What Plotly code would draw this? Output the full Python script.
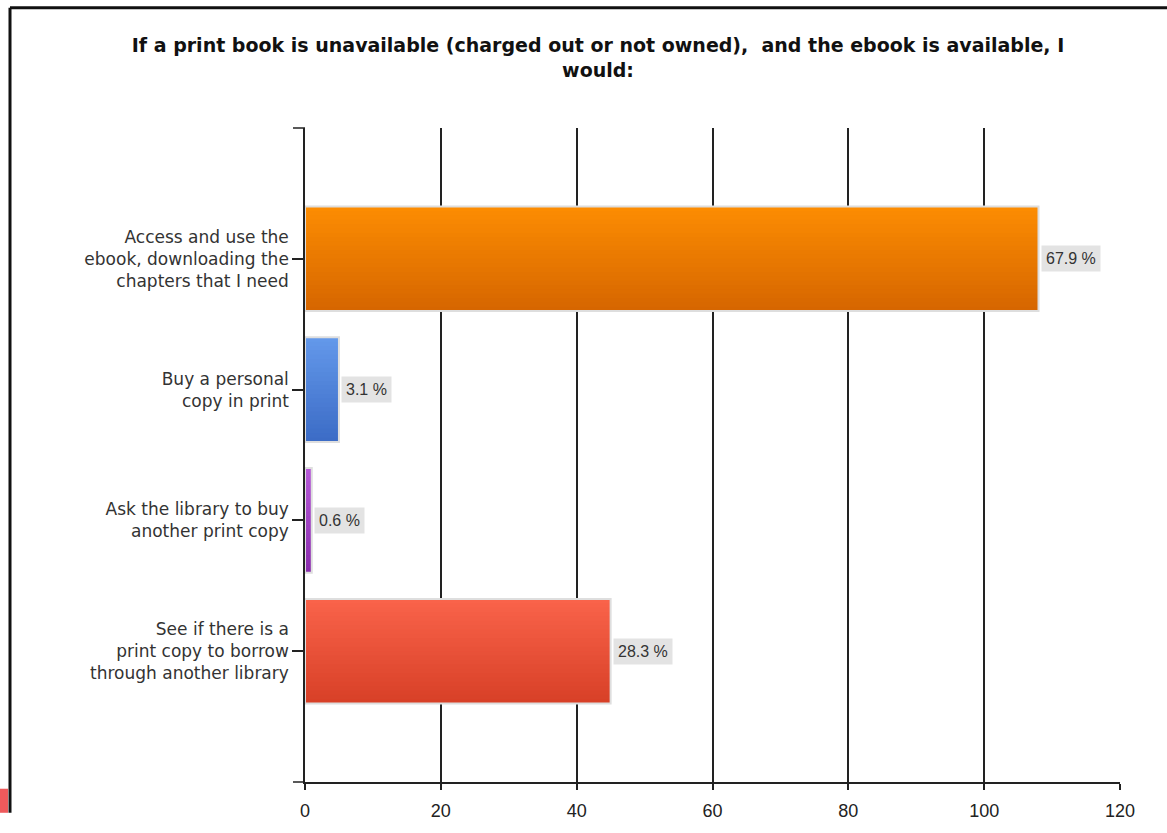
import plotly.graph_objects as go

# Survey responses (number of respondents per answer)
categories = [
    "Access and use the<br>ebook, downloading the<br>chapters that I need",
    "Buy a personal<br>copy in print",
    "Ask the library to buy<br>another print copy",
    "See if there is a<br>print copy to borrow<br>through another library",
]
counts = [108, 5, 1, 45]
x_ticks = [0, 20, 40, 60, 80, 100, 120]

title_text = ("<b>If a print book is unavailable (charged out or not owned),\u00a0 and the ebook is available, I"
              "<br>would:</b>")

# top / bottom colours of the vertical gradient on each bar
top_colors = ["#fc8c02", "#6398ea", "#b65ad8", "#f9634a"]
bottom_colors = ["#d66600", "#3c6cc6", "#8a2cae", "#d84027"]

total = sum(counts)
percents = [c / total * 100 for c in counts]

W, H = 1167, 833
L, R, T, B = 305, 47, 128, 25
PW, PH = W - L - R, H - T - B


def px_x(px):
    return (px - L) / PW


def px_y(py):
    return (H - B - py) / PH


def hex_to_rgb(h):
    h = h.lstrip("#")
    return tuple(int(h[i:i + 2], 16) for i in (0, 2, 4))


def mix(c1, c2, t):
    a, b = hex_to_rgb(c1), hex_to_rgb(c2)
    return "rgb({},{},{})".format(*[round(a[i] + (b[i] - a[i]) * t) for i in range(3)])


fig = go.Figure()

# each bar is built from overlapping strips that shade from the top colour to the bottom colour
BAR_W = 0.8
N = 24
step = BAR_W / N
for k in range(N):
    t = k / (N - 1)
    fig.add_trace(go.Bar(
        x=counts, y=categories, orientation="h",
        offset=-BAR_W / 2 + k * step, width=BAR_W - k * step,
        marker=dict(color=[mix(tc, bc, t) for tc, bc in zip(top_colors, bottom_colors)],
                    line=dict(width=0)),
        hoverinfo="skip", showlegend=False,
    ))

# light outline round each bar
fig.add_trace(go.Bar(
    x=counts, y=categories, orientation="h",
    offset=-BAR_W / 2, width=BAR_W,
    marker=dict(color="rgba(0,0,0,0)", line=dict(color="#dedede", width=2)),
    hovertemplate="%{y}: %{x}<extra></extra>", showlegend=False,
))

for cat, cnt, pct in zip(categories, counts, percents):
    fig.add_annotation(
        x=cnt, y=cat, xref="x", yref="y",
        text=f"{pct:.1f} %", showarrow=False,
        xanchor="left", yanchor="middle", xshift=2,
        font=dict(family="Liberation Sans, Arial, sans-serif", size=16, color="#333333"),
        bgcolor="#e3e3e3", borderpad=4,
    )

shapes = [
    # outer frame (top and left edges)
    dict(type="line", xref="paper", yref="paper", x0=px_x(10), x1=px_x(1170), y0=px_y(3), y1=px_y(3),
         line=dict(color="#111111", width=3)),
    dict(type="line", xref="paper", yref="paper", x0=px_x(10), x1=px_x(10), y0=px_y(3), y1=px_y(840),
         line=dict(color="#111111", width=3)),
    # red corner tab
    dict(type="rect", xref="paper", yref="paper", x0=px_x(0), x1=px_x(8), y0=px_y(815), y1=px_y(840),
         fillcolor="#ee5a5c", line=dict(width=0)),
    # end caps of the value axis
    dict(type="line", xref="paper", yref="paper", x0=px_x(293), x1=0, y0=1, y1=1,
         line=dict(color="#222222", width=1.5)),
    dict(type="line", xref="paper", yref="paper", x0=px_x(293), x1=0, y0=0, y1=0,
         line=dict(color="#222222", width=1.5)),
]

fig.update_layout(
    width=W, height=H,
    margin=dict(l=L, r=R, t=T, b=B, pad=0),
    paper_bgcolor="white", plot_bgcolor="white",
    barmode="overlay",
    shapes=shapes,
    title=dict(
        text=title_text, x=598 / W, xanchor="center", xref="container",
        y=1 - 52 / H, yanchor="top", yref="container",
        font=dict(family="DejaVu Sans, sans-serif", size=19, color="#111111"),
    ),
    font=dict(family="DejaVu Sans, sans-serif"),
)

fig.update_xaxes(
    range=[0, 120], tickvals=x_ticks, ticktext=[str(v) for v in x_ticks],
    showgrid=True, gridcolor="#222222", gridwidth=1.5,
    zeroline=False, showline=True, linecolor="#222222", linewidth=1.5,
    ticks="outside", ticklen=6, tickcolor="#222222", tickwidth=1.5,
    ticklabelstandoff=6,
    tickfont=dict(family="Liberation Sans, Arial, sans-serif", size=18, color="#222222"),
)

fig.update_yaxes(
    type="category", categoryorder="array", categoryarray=categories,
    range=[4, -1], showgrid=False, zeroline=False,
    showline=True, linecolor="#222222", linewidth=1.5,
    ticks="outside", ticklen=11, tickcolor="#222222", tickwidth=1.5,
    tickfont=dict(size=17, color="#333333"),
)

fig.write_html("out.html")
